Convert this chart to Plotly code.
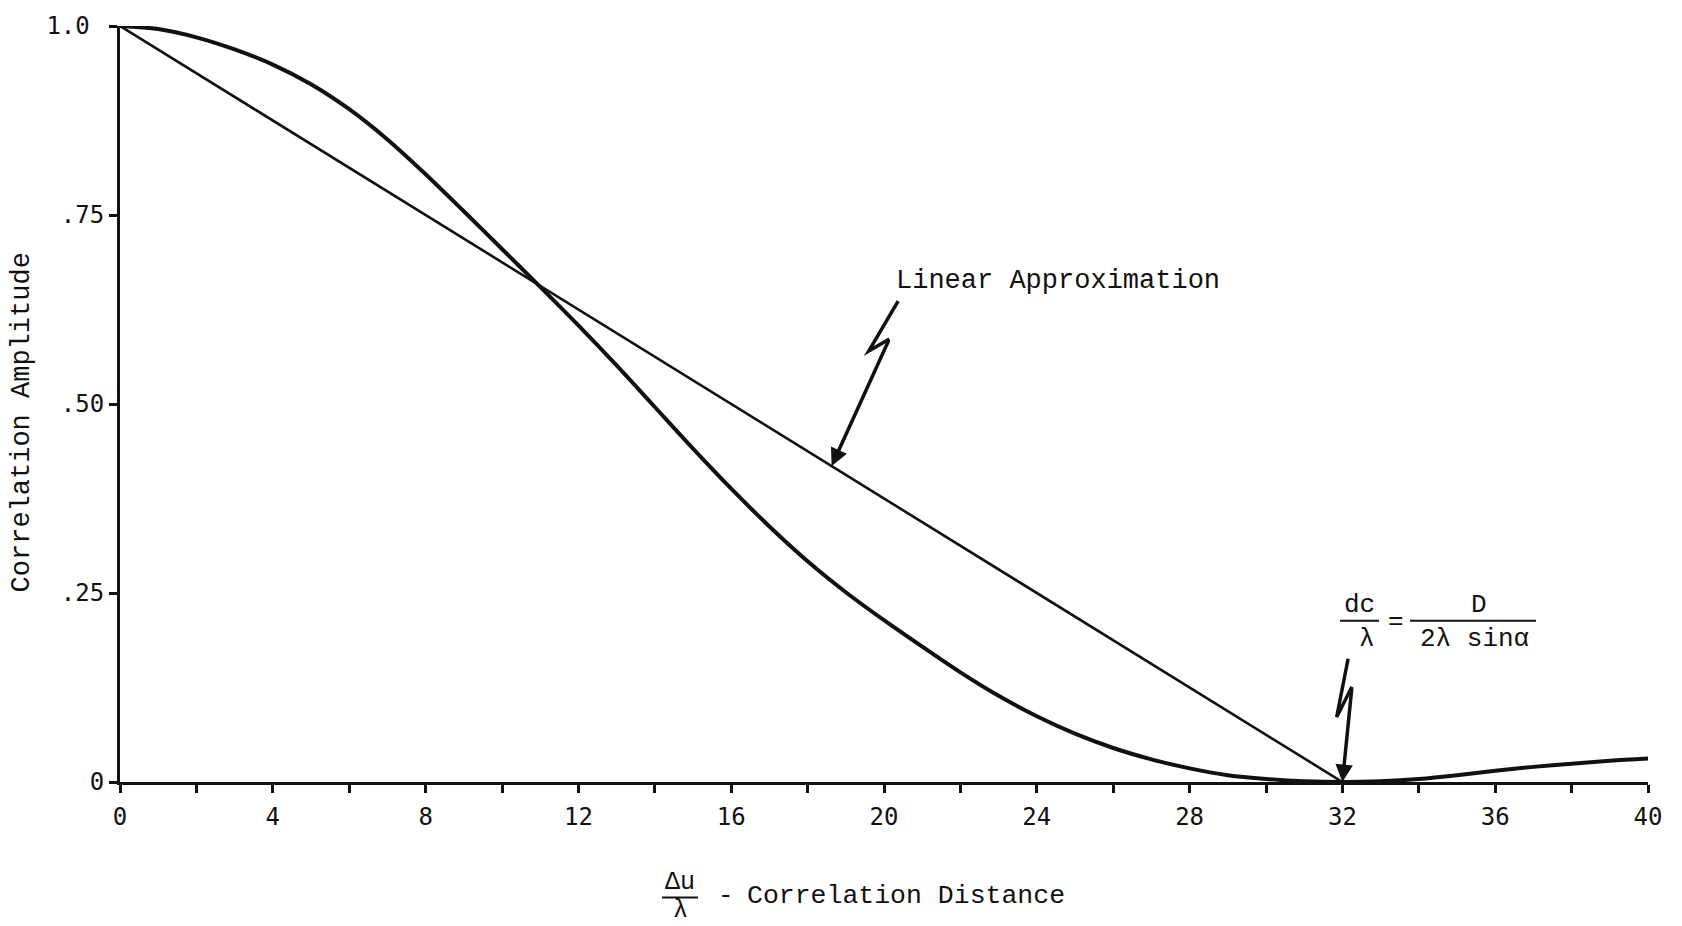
import plotly.graph_objects as go

# Correlation distance (delta-u / lambda) and measured correlation amplitude
x_dist = list(range(0, 41))
corr_amp = [1.000, 0.996, 0.985, 0.969, 0.949, 0.923, 0.890, 0.850, 0.804, 0.755,
            0.705, 0.655, 0.604, 0.551, 0.496, 0.441, 0.388, 0.338, 0.292, 0.251,
            0.214, 0.179, 0.145, 0.114, 0.087, 0.064, 0.045, 0.030, 0.018, 0.009,
            0.004, 0.001, 0.000, 0.001, 0.004, 0.009, 0.015, 0.020, 0.024, 0.028,
            0.031]

# Linear approximation: from full correlation to zero at dc/lambda = 32
lin_x = [0, 32]
lin_y = [1.0, 0.0]

x_tick_vals = list(range(0, 41, 2))
x_tick_text = [str(v) if v % 4 == 0 else "" for v in x_tick_vals]
y_tick_vals = [0, 0.25, 0.50, 0.75, 1.0]
y_tick_text = ["0", ".25", ".50", ".75", "1.0\u00a0"]

# Hand-drawn zigzag pointers (data coordinates): start, kink, kink, tip
ptr_lin = [(20.37, 0.636), (19.60, 0.570), (20.14, 0.586), (18.63, 0.418)]
ptr_dc = [(32.15, 0.163), (31.85, 0.086), (32.25, 0.126), (32.0, 0.0)]

W, H = 1682, 926
ML, MR, MT, MB = 120, 34, 23, 144
PW, PH = W - ML - MR, H - MT - MB

TXT = "Liberation Mono"
NUM = "DejaVu Sans Mono"
INK = "#111111"


def px_x(px):
    return (px - ML) / PW


def px_y(py):
    return (H - MB - py) / PH


def label(text, cx, cy, size, **kw):
    return dict(text=text, x=px_x(cx), y=px_y(cy), xref="paper", yref="paper",
                xanchor=kw.pop("xanchor", "center"), yanchor="middle",
                showarrow=False, font=dict(family=TXT, size=size, color=INK), **kw)


fig = go.Figure()
fig.add_trace(go.Scatter(x=x_dist, y=corr_amp, mode="lines",
                         line=dict(color=INK, width=4, shape="spline", smoothing=0.9),
                         cliponaxis=False, hoverinfo="skip"))
fig.add_trace(go.Scatter(x=lin_x, y=lin_y, mode="lines",
                         line=dict(color=INK, width=2.6),
                         cliponaxis=False, hoverinfo="skip"))

shapes = []
annotations = []
for ptr in (ptr_lin, ptr_dc):
    (x0, y0), (x1, y1), (x2, y2), (xt, yt) = ptr
    shapes.append(dict(type="path", xref="x", yref="y",
                       path=f"M {x0},{y0} L {x1},{y1} L {x2},{y2}",
                       line=dict(color=INK, width=3.5)))
    annotations.append(dict(x=xt, y=yt, ax=x2, ay=y2, xref="x", yref="y",
                            axref="x", ayref="y", text="", showarrow=True,
                            arrowhead=2, arrowsize=1.0, arrowwidth=3.5,
                            arrowcolor=INK))

# Text labels
annotations.append(label("Linear Approximation", 1058, 279, 27))
annotations.append(label("Correlation Amplitude", 22, 421, 27, textangle=-90))

# x-axis title: delta-u over lambda, then the description
annotations.append(label("Δu", 680, 883, 25))
annotations.append(label("λ", 680, 911, 25))
shapes.append(dict(type="line", xref="paper", yref="paper",
                   x0=px_x(662), x1=px_x(698), y0=px_y(898), y1=px_y(898),
                   line=dict(color=INK, width=2)))
annotations.append(label("-", 726, 896, 26))
annotations.append(label("Correlation Distance", 745, 896, 26.5, xanchor="left"))

# Cut-off formula near x = 32
for txt, cx, cy in [("dc", 1359, 604), ("λ", 1367, 638), ("=", 1396, 621),
                    ("D", 1479, 604), ("2λ sinα", 1474, 638)]:
    annotations.append(label(txt, cx, cy, 26))
for bx0, bx1 in [(1340, 1379), (1410, 1536)]:
    shapes.append(dict(type="line", xref="paper", yref="paper",
                       x0=px_x(bx0), x1=px_x(bx1), y0=px_y(620), y1=px_y(620),
                       line=dict(color=INK, width=2)))

fig.update_layout(
    width=W, height=H,
    margin=dict(l=ML, r=MR, t=MT, b=MB),
    paper_bgcolor="white", plot_bgcolor="white",
    showlegend=False,
    shapes=shapes, annotations=annotations,
    xaxis=dict(range=[0, 40], tickmode="array", tickvals=x_tick_vals, ticktext=x_tick_text,
               ticks="outside", ticklen=8, tickwidth=2.5, tickcolor=INK,
               showline=True, linecolor=INK, linewidth=3, showgrid=False, zeroline=False,
               ticklabelstandoff=3,
               tickfont=dict(family=NUM, size=24, color=INK), fixedrange=True),
    yaxis=dict(range=[0, 1], tickmode="array", tickvals=y_tick_vals, ticktext=y_tick_text,
               ticks="outside", ticklen=8, tickwidth=2.5, tickcolor=INK,
               showline=True, linecolor=INK, linewidth=3, showgrid=False, zeroline=False,
               ticklabelstandoff=0,
               tickfont=dict(family=NUM, size=24, color=INK), fixedrange=True),
)

fig.write_html("out.html", config={"displayModeBar": False})
